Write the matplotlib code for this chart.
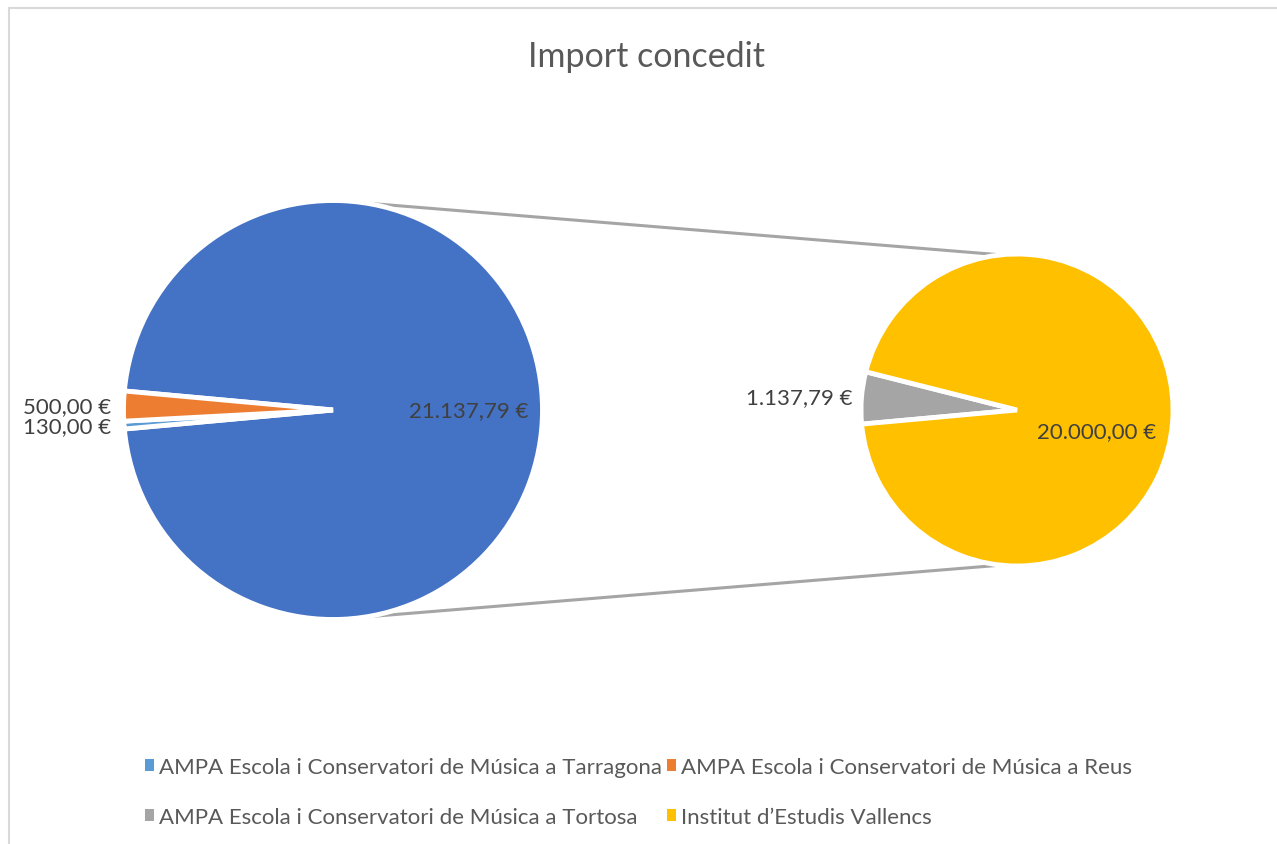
import numpy as np
import matplotlib.pyplot as plt
from matplotlib.patches import Patch, Rectangle

plt.rcParams['font.family'] = ['Lato', 'DejaVu Sans']

# Data
names = ['AMPA Escola i Conservatori de Música a Tarragona',
         'AMPA Escola i Conservatori de Música a Reus',
         'AMPA Escola i Conservatori de Música a Tortosa',
         'Institut d\u2019Estudis Vallencs']
values = [130.00, 500.00, 1137.79, 20000.00]
colors = ['#5B9BD5', '#ED7D31', '#A5A5A5', '#FFC000']
other_color = '#4472C4'


def eur(v):
    s = f'{v:,.2f}'.replace(',', 'X').replace('.', ',').replace('X', '.')
    return s + ' \u20ac'


# first pie: two first points + "other" (rest)
other = sum(values[2:])
main_vals = [other, values[0], values[1]]
main_cols = [other_color, colors[0], colors[1]]
sec_vals = values[2:]
sec_cols = colors[2:]

W, H = 1277, 845
fig = plt.figure(figsize=(W / 100, H / 100), dpi=100)
ax = fig.add_axes([0, 0, 1, 1])

c1, r1 = (333, H - 411), 209.5
c2, r2 = (1017, H - 411), 156

wp = dict(edgecolor='white', linewidth=3.5)
start1 = 180 * other / sum(main_vals)
w1, _ = ax.pie(main_vals, colors=main_cols, center=c1, radius=r1,
               startangle=start1, counterclock=False, wedgeprops=wp)
w2, _ = ax.pie(sec_vals, colors=sec_cols, center=c2, radius=r2,
               startangle=185.2, counterclock=False, wedgeprops=wp)

lab_col = '#404040'
fs = 16


def label(w, c, r, txt, dist, outside, rot=0):
    a = np.deg2rad((w.theta1 + w.theta2) / 2 + rot)
    x = c[0] + dist * r * np.cos(a)
    y = c[1] + dist * r * np.sin(a)
    ax.text(x, y, txt, ha='right' if outside else 'center', va='center',
            fontsize=fs, color=lab_col)


label(w1[0], c1, r1, eur(main_vals[0]), 0.65, False)
label(w1[1], c1, r1, eur(main_vals[1]), 1.06, True)
label(w1[2], c1, r1, eur(main_vals[2]), 1.06, True)
label(w2[0], c2, r2, eur(sec_vals[0]), 1.06, True)
label(w2[1], c2, r2, eur(sec_vals[1]), 0.53, False, rot=-10)

# connector lines
for s in (1, -1):
    a1 = np.deg2rad(81 * s)
    a2 = np.deg2rad(96 * s)
    ax.plot([c1[0] + r1 * np.cos(a1), c2[0] + r2 * np.cos(a2)],
            [c1[1] + r1 * np.sin(a1), c2[1] + r2 * np.sin(a2)],
            color='#A5A5A5', lw=2.2, solid_capstyle='butt', zorder=0)

ax.text(647, H - 57, 'Import concedit', ha='center', va='center',
        fontsize=24.5, color='#595959')

# legend filled row by row (matplotlib fills by column)
order = [0, 2, 1, 3]
handles = [Patch(facecolor=colors[i], edgecolor='none') for i in order]
ax.legend(handles, [names[i] for i in order], ncol=2, loc='center',
          bbox_to_anchor=(0.5, (H - 793) / H),
          frameon=False, fontsize=16, handlelength=0.4, handleheight=0.4,
          handletextpad=0.25, columnspacing=0.2, labelspacing=1.35,
          labelcolor='#595959')

ax.add_patch(Rectangle((9, -50), W + 50, H - 9 + 50, fill=False,
                       edgecolor='#D9D9D9', lw=1.5))

ax.set_xlim(0, W)
ax.set_ylim(0, H)
ax.set_aspect('auto')
ax.axis('off')

fig.savefig('out.png', dpi=100)
